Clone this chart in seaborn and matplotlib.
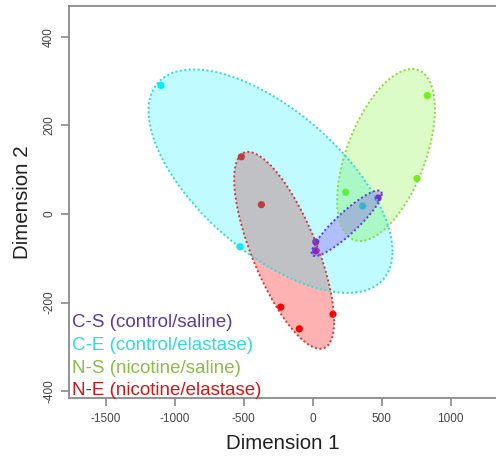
import numpy as np
import pandas as pd
import matplotlib
matplotlib.use("Agg")
import matplotlib.pyplot as plt
import seaborn as sns

# samples
cs_x = [473, 22, 22]
cs_y = [36, -63, -83]
ce_x = [-1100, -527, 362]
ce_y = [290, -74, 18]
ns_x = [830, 756, 239]
ns_y = [267, 80, 49]
ne_x = [-517, -372, -232, -97, 147]
ne_y = [129, 21, -210, -259, -226]

groups = ["C-S", "C-E", "N-S", "N-E"]
labels = ["C-S (control/saline)", "C-E (control/elastase)",
          "N-S (nicotine/saline)", "N-E (nicotine/elastase)"]

# ellipse per group: centre, half extents along x / y, tilt (correlation)
ell_cx = [246, -306, 531, -207]
ell_cy = [-21, 74, 133, -82]
ell_sx = [254, 884, 354, 362]
ell_sy = [74, 252, 194, 222]
ell_r = [0.9, -0.63, 0.53, -0.72]

point_col = {"C-S": "#7f00ff", "C-E": "#00f0ff", "N-S": "#70f020", "N-E": "#ff0000"}
edge_col = {"C-S": "#6038e0", "C-E": "#36d6d6", "N-S": "#8cd83c", "N-E": "#d03838"}
text_col = {"C-S": "#5e3a9e", "C-E": "#30dcdc", "N-S": "#8cbc48", "N-E": "#d01818"}
fill_alpha = {"C-S": 0.24, "C-E": 0.25, "N-S": 0.25, "N-E": 0.3}

df = pd.concat([
    pd.DataFrame({"d1": cs_x, "d2": cs_y, "group": "C-S"}),
    pd.DataFrame({"d1": ce_x, "d2": ce_y, "group": "C-E"}),
    pd.DataFrame({"d1": ns_x, "d2": ns_y, "group": "N-S"}),
    pd.DataFrame({"d1": ne_x, "d2": ne_y, "group": "N-E"}),
], ignore_index=True)

sns.set_style("white")
plt.rcParams["font.family"] = ["Liberation Sans", "DejaVu Sans"]
plt.rcParams["axes.unicode_minus"] = False

fig = plt.figure(figsize=(4.96, 4.57), dpi=100)
ax = fig.add_axes([69 / 496, 59 / 457, 1 - 69 / 496, 392 / 457])

sns.scatterplot(data=df, x="d1", y="d2", hue="group", palette=point_col,
                s=27, linewidth=0, legend=False, ax=ax, zorder=2)

t = np.linspace(0, 2 * np.pi, 300)
for i in [3, 1, 2, 0]:
    g = groups[i]
    ex = ell_cx[i] + ell_sx[i] * np.cos(t)
    ey = ell_cy[i] + ell_sy[i] * (ell_r[i] * np.cos(t) + np.sqrt(1 - ell_r[i] ** 2) * np.sin(t))
    ax.fill(ex, ey, color=point_col[g], alpha=fill_alpha[g], lw=0, zorder=3)
    ax.plot(ex, ey, color=edge_col[g], lw=1.4, ls=(0, (1, 1.3)), zorder=4)

for i, g in enumerate(groups):
    ax.text(0.007, 0.192 - i * 0.058, labels[i], color=text_col[g],
            fontsize=13.5, transform=ax.transAxes, va="center", ha="left", zorder=5)

ax.set_xlim(-1766, 1328)
ax.set_ylim(-415, 469)
ax.set_xticks([-1500, -1000, -500, 0, 500, 1000])
ax.set_yticks([-400, -200, 0, 200, 400])
ax.tick_params(axis="both", direction="out", length=6, width=1.1, color="#808080",
               labelsize=8.5, labelcolor="#444444", bottom=True, left=True)
plt.setp(ax.get_yticklabels(), rotation=90, va="center")
ax.tick_params(axis="y", pad=4)
ax.tick_params(axis="x", pad=5)

for side in ["left", "bottom", "top"]:
    ax.spines[side].set_color("#8a8a8a")
    ax.spines[side].set_linewidth(1.3)
ax.spines["right"].set_visible(False)

ax.set_xlabel("Dimension 1", fontsize=14.8, color="#222222", labelpad=6)
ax.set_ylabel("Dimension 2", fontsize=14.8, color="#222222", labelpad=8)

fig.savefig("out.png", dpi=100)
